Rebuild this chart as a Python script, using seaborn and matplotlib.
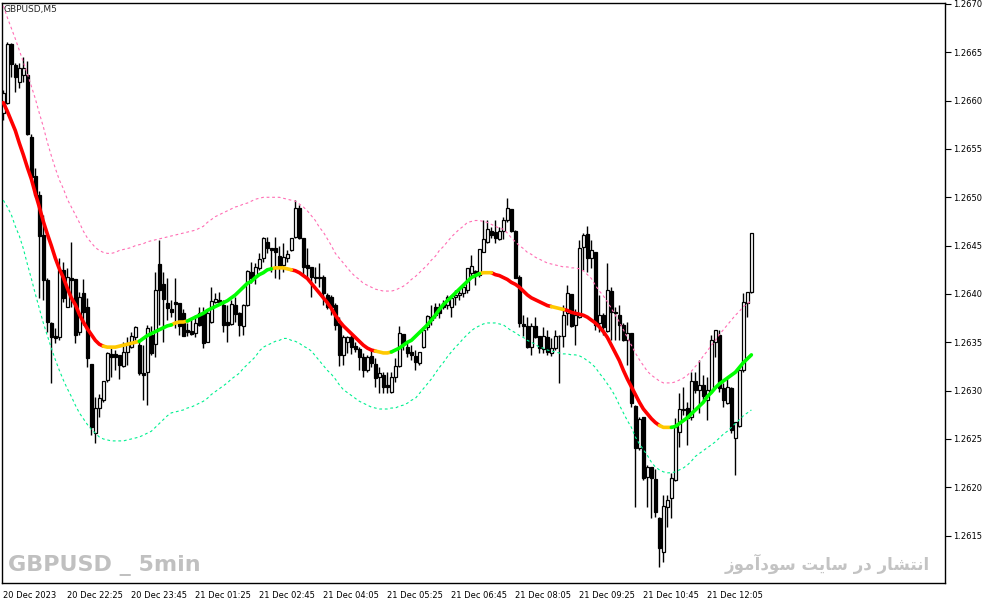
import pandas as pd
import numpy as np
import matplotlib
matplotlib.use("Agg")
import matplotlib.pyplot as plt
import seaborn as sns

# GBPUSD M5 bars (one value per bar, left to right)
opens = [
    1.26587, 1.26598, 1.26659, 1.26637, 1.26619, 1.26626, 1.26627, 1.26562, 1.26522, 1.26502,
    1.26461, 1.26414, 1.26370, 1.26356, 1.26355, 1.26425, 1.26387, 1.26416, 1.26415, 1.26361,
    1.26401, 1.26386, 1.26328, 1.26256, 1.26282, 1.26290, 1.26311, 1.26338, 1.26338, 1.26337,
    1.26325, 1.26340, 1.26345, 1.26355, 1.26347, 1.26318, 1.26319, 1.26358, 1.26348, 1.26431,
    1.26410, 1.26391, 1.26384, 1.26392, 1.26391, 1.26380, 1.26363, 1.26362, 1.26360, 1.26380,
    1.26380, 1.26350, 1.26371, 1.26392, 1.26394, 1.26389, 1.26371, 1.26369, 1.26389, 1.26380,
    1.26367, 1.26389, 1.26423, 1.26418, 1.26427, 1.26437, 1.26454, 1.26448, 1.26448, 1.26439,
    1.26430, 1.26437, 1.26446, 1.26459, 1.26489, 1.26458, 1.26430, 1.26428, 1.26418, 1.26418,
    1.26418, 1.26399, 1.26397, 1.26389, 1.26370, 1.26337, 1.26350, 1.26355, 1.26346, 1.26343,
    1.26335, 1.26321, 1.26336, 1.26328, 1.26314, 1.26316, 1.26306, 1.26299, 1.26314, 1.26325,
    1.26359, 1.26345, 1.26340, 1.26336, 1.26329, 1.26345, 1.26366, 1.26373, 1.26387, 1.26387,
    1.26391, 1.26389, 1.26387, 1.26397, 1.26399, 1.26401, 1.26404, 1.26422, 1.26424, 1.26420,
    1.26443, 1.26454, 1.26465, 1.26464, 1.26457, 1.26465, 1.26477, 1.26488, 1.26465, 1.26418,
    1.26369, 1.26367, 1.26345, 1.26367, 1.26357, 1.26343, 1.26355, 1.26339, 1.26344, 1.26357,
    1.26357, 1.26380, 1.26400, 1.26368, 1.26376, 1.26449, 1.26462, 1.26437, 1.26443, 1.26370,
    1.26378, 1.26362, 1.26403, 1.26381, 1.26378, 1.26368, 1.26352, 1.26360, 1.26284, 1.26241,
    1.26273, 1.26211, 1.26221, 1.26209, 1.26168, 1.26133, 1.26180, 1.26189, 1.26208, 1.26257,
    1.26280, 1.26282, 1.26273, 1.26310, 1.26301, 1.26306, 1.26290, 1.26301, 1.26350, 1.26358,
    1.26303, 1.26287, 1.26303, 1.26251, 1.26263, 1.26321, 1.26391, 1.26402]
highs = [
    1.26611, 1.26661, 1.26660, 1.26639, 1.26639, 1.26645, 1.26641, 1.26565, 1.26530, 1.26507,
    1.26482, 1.26417, 1.26371, 1.26365, 1.26437, 1.26433, 1.26427, 1.26454, 1.26415, 1.26402,
    1.26415, 1.26396, 1.26328, 1.26293, 1.26297, 1.26310, 1.26340, 1.26344, 1.26342, 1.26337,
    1.26350, 1.26355, 1.26361, 1.26367, 1.26350, 1.26347, 1.26368, 1.26367, 1.26423, 1.26456,
    1.26423, 1.26417, 1.26394, 1.26417, 1.26391, 1.26384, 1.26370, 1.26375, 1.26378, 1.26386,
    1.26386, 1.26383, 1.26407, 1.26401, 1.26402, 1.26394, 1.26389, 1.26394, 1.26397, 1.26381,
    1.26390, 1.26425, 1.26433, 1.26432, 1.26442, 1.26459, 1.26459, 1.26448, 1.26459, 1.26450,
    1.26453, 1.26446, 1.26458, 1.26497, 1.26492, 1.26458, 1.26448, 1.26428, 1.26428, 1.26432,
    1.26420, 1.26401, 1.26399, 1.26391, 1.26376, 1.26358, 1.26356, 1.26358, 1.26350, 1.26345,
    1.26339, 1.26337, 1.26343, 1.26334, 1.26324, 1.26319, 1.26319, 1.26319, 1.26334, 1.26367,
    1.26359, 1.26350, 1.26347, 1.26342, 1.26340, 1.26366, 1.26378, 1.26389, 1.26391, 1.26391,
    1.26394, 1.26399, 1.26399, 1.26404, 1.26406, 1.26409, 1.26427, 1.26440, 1.26425, 1.26447,
    1.26477, 1.26477, 1.26469, 1.26477, 1.26469, 1.26480, 1.26499, 1.26488, 1.26466, 1.26420,
    1.26378, 1.26376, 1.26370, 1.26376, 1.26357, 1.26366, 1.26363, 1.26354, 1.26363, 1.26358,
    1.26389, 1.26409, 1.26400, 1.26384, 1.26456, 1.26463, 1.26470, 1.26456, 1.26443, 1.26399,
    1.26380, 1.26432, 1.26407, 1.26387, 1.26389, 1.26370, 1.26371, 1.26360, 1.26285, 1.26273,
    1.26273, 1.26223, 1.26221, 1.26219, 1.26169, 1.26192, 1.26192, 1.26215, 1.26272, 1.26298,
    1.26304, 1.26288, 1.26319, 1.26319, 1.26332, 1.26316, 1.26314, 1.26358, 1.26363, 1.26363,
    1.26308, 1.26313, 1.26304, 1.26268, 1.26324, 1.26401, 1.26402, 1.26463]
lows = [
    1.26580, 1.26596, 1.26624, 1.26609, 1.26613, 1.26619, 1.26564, 1.26520, 1.26500, 1.26396,
    1.26394, 1.26361, 1.26308, 1.26349, 1.26352, 1.26392, 1.26386, 1.26386, 1.26349, 1.26358,
    1.26368, 1.26324, 1.26254, 1.26246, 1.26273, 1.26288, 1.26309, 1.26314, 1.26321, 1.26312,
    1.26324, 1.26327, 1.26344, 1.26352, 1.26316, 1.26290, 1.26285, 1.26337, 1.26335, 1.26368,
    1.26350, 1.26373, 1.26376, 1.26365, 1.26358, 1.26356, 1.26356, 1.26358, 1.26355, 1.26367,
    1.26344, 1.26350, 1.26370, 1.26391, 1.26389, 1.26361, 1.26350, 1.26368, 1.26371, 1.26357,
    1.26358, 1.26388, 1.26411, 1.26410, 1.26425, 1.26433, 1.26442, 1.26423, 1.26417, 1.26415,
    1.26423, 1.26433, 1.26444, 1.26458, 1.26457, 1.26420, 1.26415, 1.26397, 1.26411, 1.26407,
    1.26389, 1.26384, 1.26378, 1.26363, 1.26325, 1.26327, 1.26339, 1.26338, 1.26340, 1.26321,
    1.26314, 1.26319, 1.26324, 1.26304, 1.26298, 1.26298, 1.26298, 1.26298, 1.26309, 1.26324,
    1.26342, 1.26335, 1.26332, 1.26321, 1.26327, 1.26344, 1.26363, 1.26368, 1.26375, 1.26375,
    1.26384, 1.26384, 1.26376, 1.26389, 1.26394, 1.26397, 1.26401, 1.26418, 1.26409, 1.26418,
    1.26443, 1.26453, 1.26458, 1.26453, 1.26456, 1.26457, 1.26474, 1.26464, 1.26416, 1.26366,
    1.26356, 1.26344, 1.26337, 1.26354, 1.26339, 1.26339, 1.26337, 1.26336, 1.26342, 1.26308,
    1.26345, 1.26368, 1.26366, 1.26347, 1.26375, 1.26425, 1.26423, 1.26427, 1.26363, 1.26361,
    1.26358, 1.26361, 1.26352, 1.26352, 1.26352, 1.26351, 1.26327, 1.26283, 1.26180, 1.26239,
    1.26208, 1.26180, 1.26168, 1.26169, 1.26118, 1.26123, 1.26159, 1.26168, 1.26206, 1.26242,
    1.26275, 1.26244, 1.26270, 1.26298, 1.26277, 1.26288, 1.26270, 1.26299, 1.26335, 1.26299,
    1.26283, 1.26286, 1.26256, 1.26213, 1.26262, 1.26319, 1.26376, 1.26401]
closes = [
    1.26608, 1.26659, 1.26638, 1.26624, 1.26634, 1.26634, 1.26565, 1.26521, 1.26502, 1.26460,
    1.26414, 1.26371, 1.26355, 1.26354, 1.26425, 1.26396, 1.26418, 1.26414, 1.26358, 1.26397,
    1.26381, 1.26334, 1.26262, 1.26282, 1.26292, 1.26310, 1.26339, 1.26335, 1.26335, 1.26326,
    1.26340, 1.26348, 1.26356, 1.26366, 1.26318, 1.26316, 1.26365, 1.26339, 1.26404, 1.26404,
    1.26395, 1.26385, 1.26381, 1.26390, 1.26367, 1.26357, 1.26361, 1.26359, 1.26370, 1.26368,
    1.26349, 1.26380, 1.26393, 1.26395, 1.26392, 1.26368, 1.26368, 1.26390, 1.26379, 1.26368,
    1.26389, 1.26424, 1.26417, 1.26428, 1.26436, 1.26458, 1.26448, 1.26446, 1.26443, 1.26429,
    1.26438, 1.26441, 1.26458, 1.26489, 1.26458, 1.26428, 1.26427, 1.26418, 1.26417, 1.26417,
    1.26401, 1.26387, 1.26386, 1.26368, 1.26337, 1.26355, 1.26355, 1.26345, 1.26343, 1.26335,
    1.26321, 1.26335, 1.26329, 1.26313, 1.26318, 1.26304, 1.26304, 1.26314, 1.26325, 1.26360,
    1.26348, 1.26339, 1.26337, 1.26330, 1.26340, 1.26363, 1.26377, 1.26376, 1.26378, 1.26380,
    1.26387, 1.26397, 1.26396, 1.26399, 1.26401, 1.26407, 1.26427, 1.26429, 1.26422, 1.26446,
    1.26457, 1.26467, 1.26461, 1.26458, 1.26465, 1.26476, 1.26489, 1.26465, 1.26417, 1.26370,
    1.26367, 1.26345, 1.26367, 1.26355, 1.26344, 1.26356, 1.26340, 1.26344, 1.26357, 1.26356,
    1.26378, 1.26401, 1.26367, 1.26378, 1.26448, 1.26461, 1.26437, 1.26445, 1.26368, 1.26378,
    1.26366, 1.26404, 1.26381, 1.26380, 1.26368, 1.26352, 1.26360, 1.26287, 1.26241, 1.26271,
    1.26210, 1.26221, 1.26210, 1.26174, 1.26137, 1.26181, 1.26187, 1.26210, 1.26262, 1.26281,
    1.26281, 1.26272, 1.26310, 1.26301, 1.26306, 1.26294, 1.26301, 1.26352, 1.26363, 1.26303,
    1.26290, 1.26304, 1.26259, 1.26268, 1.26321, 1.26392, 1.26402, 1.26463]

# indicator: thick centre line and the two dashed bands
mid_line = [
    1.26598, 1.26589, 1.26579, 1.26569, 1.26556, 1.26544, 1.26531, 1.26519, 1.26504, 1.26490,
    1.26475, 1.26462, 1.26450, 1.26437, 1.26426, 1.26417, 1.26406, 1.26396, 1.26389, 1.26379,
    1.26371, 1.26364, 1.26358, 1.26352, 1.26348, 1.26346, 1.26345, 1.26345, 1.26345, 1.26346,
    1.26347, 1.26348, 1.26349, 1.26350, 1.26351, 1.26354, 1.26357, 1.26359, 1.26361, 1.26363,
    1.26365, 1.26367, 1.26368, 1.26370, 1.26371, 1.26371, 1.26372, 1.26374, 1.26376, 1.26378,
    1.26380, 1.26383, 1.26385, 1.26387, 1.26389, 1.26391, 1.26393, 1.26396, 1.26399, 1.26403,
    1.26407, 1.26411, 1.26413, 1.26417, 1.26420, 1.26422, 1.26425, 1.26426, 1.26427, 1.26427,
    1.26427, 1.26426, 1.26425, 1.26424, 1.26422, 1.26419, 1.26416, 1.26411, 1.26406, 1.26401,
    1.26396, 1.26391, 1.26385, 1.26378, 1.26372, 1.26367, 1.26363, 1.26359, 1.26355, 1.26351,
    1.26347, 1.26344, 1.26342, 1.26341, 1.26340, 1.26339, 1.26339, 1.26340, 1.26342, 1.26344,
    1.26347, 1.26350, 1.26352, 1.26356, 1.26360, 1.26364, 1.26368, 1.26373, 1.26378, 1.26384,
    1.26389, 1.26393, 1.26397, 1.26401, 1.26405, 1.26409, 1.26413, 1.26417, 1.26419, 1.26421,
    1.26422, 1.26422, 1.26422, 1.26420, 1.26419, 1.26417, 1.26415, 1.26412, 1.26410, 1.26407,
    1.26403, 1.26399, 1.26396, 1.26394, 1.26392, 1.26390, 1.26388, 1.26387, 1.26386, 1.26385,
    1.26384, 1.26383, 1.26381, 1.26380, 1.26379, 1.26378, 1.26376, 1.26373, 1.26370, 1.26366,
    1.26361, 1.26355, 1.26347, 1.26339, 1.26331, 1.26321, 1.26312, 1.26304, 1.26296, 1.26288,
    1.26281, 1.26276, 1.26271, 1.26267, 1.26264, 1.26262, 1.26262, 1.26262, 1.26263, 1.26266,
    1.26269, 1.26272, 1.26276, 1.26280, 1.26284, 1.26288, 1.26294, 1.26298, 1.26303, 1.26307,
    1.26310, 1.26313, 1.26316, 1.26319, 1.26324, 1.26329, 1.26333, 1.26337]
upper_band = [
    1.26698, 1.26686, 1.26675, 1.26664, 1.26652, 1.26640, 1.26628, 1.26615, 1.26602, 1.26587,
    1.26573, 1.26557, 1.26543, 1.26530, 1.26518, 1.26509, 1.26498, 1.26490, 1.26482, 1.26474,
    1.26465, 1.26458, 1.26453, 1.26448, 1.26445, 1.26443, 1.26442, 1.26442, 1.26443, 1.26445,
    1.26446, 1.26447, 1.26448, 1.26450, 1.26451, 1.26452, 1.26454, 1.26455, 1.26456, 1.26457,
    1.26458, 1.26459, 1.26460, 1.26461, 1.26462, 1.26463, 1.26464, 1.26465, 1.26466, 1.26468,
    1.26470, 1.26474, 1.26477, 1.26480, 1.26482, 1.26484, 1.26486, 1.26488, 1.26490, 1.26491,
    1.26493, 1.26494, 1.26496, 1.26498, 1.26499, 1.26500, 1.26500, 1.26500, 1.26500, 1.26500,
    1.26499, 1.26498, 1.26497, 1.26496, 1.26493, 1.26490, 1.26486, 1.26481, 1.26476, 1.26469,
    1.26464, 1.26457, 1.26450, 1.26442, 1.26437, 1.26432, 1.26427, 1.26422, 1.26418, 1.26415,
    1.26411, 1.26409, 1.26407, 1.26405, 1.26404, 1.26403, 1.26403, 1.26403, 1.26404, 1.26406,
    1.26408, 1.26411, 1.26415, 1.26418, 1.26422, 1.26426, 1.26430, 1.26435, 1.26439, 1.26445,
    1.26449, 1.26454, 1.26459, 1.26463, 1.26467, 1.26470, 1.26474, 1.26475, 1.26476, 1.26476,
    1.26475, 1.26474, 1.26472, 1.26470, 1.26468, 1.26467, 1.26463, 1.26458, 1.26454, 1.26450,
    1.26447, 1.26443, 1.26441, 1.26438, 1.26436, 1.26434, 1.26432, 1.26431, 1.26430, 1.26429,
    1.26428, 1.26428, 1.26427, 1.26427, 1.26426, 1.26424, 1.26420, 1.26416, 1.26409, 1.26403,
    1.26398, 1.26392, 1.26385, 1.26378, 1.26371, 1.26363, 1.26355, 1.26347, 1.26339, 1.26332,
    1.26326, 1.26320, 1.26316, 1.26313, 1.26310, 1.26308, 1.26308, 1.26308, 1.26309, 1.26311,
    1.26313, 1.26316, 1.26320, 1.26325, 1.26330, 1.26336, 1.26341, 1.26347, 1.26352, 1.26358,
    1.26363, 1.26368, 1.26373, 1.26378, 1.26382, 1.26387, 1.26390, 1.26393]
lower_band = [
    1.26497, 1.26490, 1.26482, 1.26470, 1.26460, 1.26447, 1.26431, 1.26416, 1.26400, 1.26385,
    1.26370, 1.26357, 1.26344, 1.26332, 1.26321, 1.26311, 1.26302, 1.26294, 1.26285, 1.26277,
    1.26271, 1.26265, 1.26260, 1.26256, 1.26252, 1.26250, 1.26249, 1.26248, 1.26248, 1.26248,
    1.26248, 1.26249, 1.26250, 1.26251, 1.26252, 1.26254, 1.26256, 1.26258, 1.26262, 1.26266,
    1.26270, 1.26274, 1.26277, 1.26278, 1.26279, 1.26280, 1.26282, 1.26283, 1.26285, 1.26287,
    1.26289, 1.26292, 1.26296, 1.26299, 1.26302, 1.26305, 1.26308, 1.26312, 1.26315, 1.26318,
    1.26323, 1.26327, 1.26331, 1.26335, 1.26341, 1.26345, 1.26347, 1.26349, 1.26351, 1.26352,
    1.26354, 1.26354, 1.26352, 1.26351, 1.26349, 1.26346, 1.26344, 1.26341, 1.26336, 1.26331,
    1.26326, 1.26321, 1.26317, 1.26312, 1.26306, 1.26301, 1.26298, 1.26295, 1.26292, 1.26289,
    1.26287, 1.26285, 1.26283, 1.26282, 1.26281, 1.26281, 1.26281, 1.26282, 1.26282, 1.26284,
    1.26285, 1.26287, 1.26290, 1.26292, 1.26297, 1.26302, 1.26307, 1.26312, 1.26318, 1.26324,
    1.26329, 1.26335, 1.26340, 1.26345, 1.26349, 1.26354, 1.26358, 1.26362, 1.26365, 1.26367,
    1.26369, 1.26370, 1.26370, 1.26370, 1.26369, 1.26368, 1.26365, 1.26362, 1.26360, 1.26357,
    1.26355, 1.26352, 1.26350, 1.26348, 1.26345, 1.26344, 1.26342, 1.26341, 1.26340, 1.26339,
    1.26338, 1.26338, 1.26337, 1.26337, 1.26336, 1.26334, 1.26331, 1.26328, 1.26324, 1.26318,
    1.26313, 1.26307, 1.26301, 1.26294, 1.26285, 1.26277, 1.26269, 1.26262, 1.26252, 1.26245,
    1.26239, 1.26233, 1.26226, 1.26221, 1.26218, 1.26216, 1.26215, 1.26215, 1.26216, 1.26218,
    1.26220, 1.26223, 1.26227, 1.26232, 1.26235, 1.26238, 1.26241, 1.26244, 1.26247, 1.26251,
    1.26255, 1.26258, 1.26262, 1.26266, 1.26270, 1.26274, 1.26277, 1.26280]

# colour runs of the centre line: (state, first bar, last bar)
mid_runs = [("down", 0, 25), ("flat", 26, 34), ("up", 35, 42), ("flat", 43, 46),
            ("up", 47, 67), ("flat", 68, 72), ("down", 73, 93), ("flat", 94, 97),
            ("up", 98, 119), ("flat", 120, 122), ("down", 123, 137), ("flat", 138, 140),
            ("down", 141, 164), ("flat", 165, 167), ("up", 168, 187)]
state_colors = {"down": "#FF0000", "up": "#00FF00", "flat": "#FFC800"}

tick_bars = [0, 16, 32, 48, 64, 80, 96, 112, 128, 144, 160, 176]
tick_labels = ["20 Dec 2023", "20 Dec 22:25", "20 Dec 23:45", "21 Dec 01:25",
               "21 Dec 02:45", "21 Dec 04:05", "21 Dec 05:25", "21 Dec 06:45",
               "21 Dec 08:05", "21 Dec 09:25", "21 Dec 10:45", "21 Dec 12:05"]
price_ticks = [1.2615, 1.2620, 1.2625, 1.2630, 1.2635, 1.2640,
               1.2645, 1.2650, 1.2655, 1.2660, 1.2665, 1.2670]

# "انتشار در سایت سودآموز" in shaped (presentation) forms, visual order
fa_note = ("\uFEAF\uFEEE\uFEE3\uFE81\uFEA9\uFEEE\uFEB3 \uFE96\uFEF3\uFE8E\uFEB3 "
           "\uFEAD\uFEA9 \uFEAD\uFE8E\uFEB8\uFE98\uFEE7\uFE8D")

sns.set_style("white")
plt.rcParams['font.family'] = ['DejaVu Sans']

df = pd.DataFrame({'open': opens, 'high': highs, 'low': lows, 'close': closes})
df['bar'] = np.arange(len(df))
df['bull'] = df['close'] >= df['open']

bands = pd.DataFrame({'bar': df['bar'], 'upper': upper_band, 'lower': lower_band})

rows = []
for k, (state, a, b) in enumerate(mid_runs):
    start = a - 1 if a > 0 else a
    for i in range(start, b + 1):
        rows.append({'bar': i, 'price': mid_line[i], 'state': state, 'seg': k})
mid_df = pd.DataFrame(rows)

fig = plt.figure(figsize=(9.87, 6.05), dpi=100)
ax = fig.add_axes([2 / 987, 22 / 605, 943 / 987, 580 / 605])

# candles
ax.vlines(df['bar'], df['low'], df['high'], color='black', linewidth=1.0, zorder=2)
body_low = df[['open', 'close']].min(axis=1)
body_h = (df['close'] - df['open']).abs().clip(lower=0.000004)
ax.bar(df['bar'], body_h, bottom=body_low, width=0.62,
       color=np.where(df['bull'], 'white', 'black'), edgecolor='black',
       linewidth=0.9, zorder=3)

# bands
sns.lineplot(data=bands, x='bar', y='upper', color='#FF6EB4', linewidth=0.8,
             linestyle=(0, (2.5, 2.5)), ax=ax, zorder=4)
sns.lineplot(data=bands, x='bar', y='lower', color='#00F090', linewidth=0.8,
             linestyle=(0, (2.5, 2.5)), ax=ax, zorder=4)

# centre line
sns.lineplot(data=mid_df, x='bar', y='price', hue='state', units='seg',
             estimator=None, palette=state_colors, linewidth=2.6, sort=False,
             legend=False, ax=ax, zorder=5)

ax.set_xlim(-0.33, 235.4)
ax.set_ylim(1.26101, 1.26701)
ax.set_xlabel('')
ax.set_ylabel('')

ax.yaxis.tick_right()
ax.set_yticks(price_ticks)
ax.set_yticklabels([f"{p:.4f}" for p in price_ticks])
ax.tick_params(axis='y', direction='out', length=4, width=0.8, labelsize=6, pad=2,
               colors='black')
ax.set_xticks(tick_bars)
ax.set_xticklabels(tick_labels, ha='left')
ax.tick_params(axis='x', direction='out', length=4, width=0.8, labelsize=6, pad=2,
               colors='black')
for s in ax.spines.values():
    s.set_visible(True)
    s.set_color('black')
    s.set_linewidth(1.0)

fig.text(4 / 987, 1 - 9.5 / 605, 'GBPUSD,M5', fontsize=6.5, va='center', ha='left')
fig.text(8 / 987, 1 - 565 / 605, 'GBPUSD _ 5min', fontsize=16, fontweight='bold',
         color='#C0C0C0', family=['DejaVu Sans'], va='center', ha='left')
fig.text(930 / 987, 1 - 564 / 605, fa_note, fontsize=12, fontweight='bold',
         color='#C3C3C3', family=['DejaVu Sans'], va='center', ha='right')

fig.savefig('out.png', dpi=100)
